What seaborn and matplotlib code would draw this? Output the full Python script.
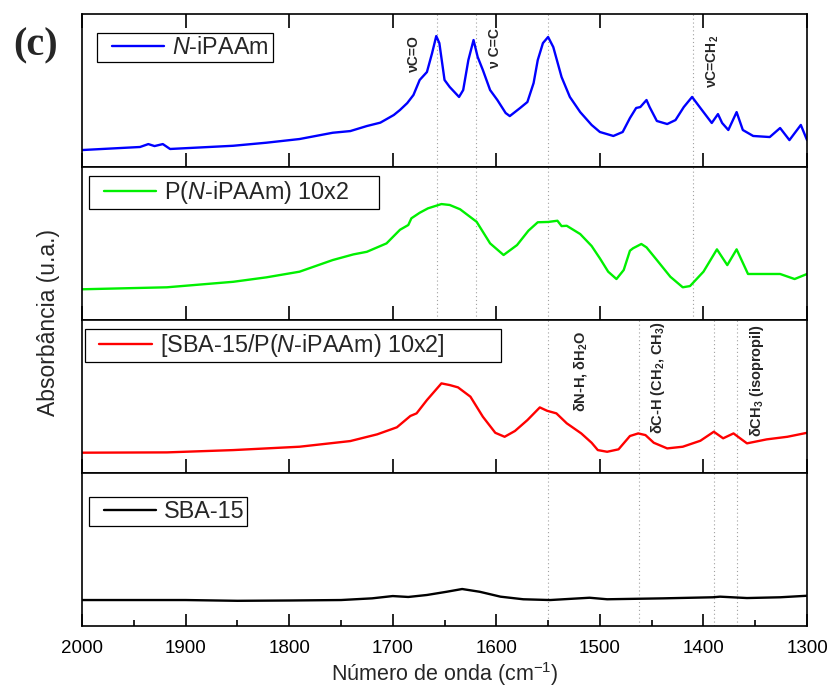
import matplotlib
matplotlib.use("Agg")
import matplotlib.pyplot as plt
from matplotlib.lines import Line2D
from matplotlib.legend_handler import HandlerLine2D
from matplotlib.ticker import MultipleLocator, FixedLocator
import pandas as pd
import seaborn as sns

# --- spectra (wavenumber cm-1, absorbance a.u.) ---
wn_nipaam = [2000, 1944, 1936, 1930, 1922, 1915, 1854, 1822, 1790, 1758, 1741, 1725,
             1712, 1699, 1693, 1686, 1680, 1674, 1667, 1662, 1658, 1655, 1650, 1645,
             1636, 1632, 1627, 1622, 1618, 1613, 1606, 1599, 1591, 1587, 1577, 1570,
             1564, 1560, 1555, 1550, 1545, 1537, 1529, 1519, 1508, 1500, 1487, 1478,
             1471, 1465, 1461, 1455, 1452, 1445, 1435, 1427, 1419, 1411, 1403, 1392,
             1386, 1382, 1376, 1368, 1362, 1352, 1336, 1326, 1317, 1306, 1300]
abs_nipaam = [0.111, 0.131, 0.150, 0.137, 0.150, 0.118, 0.139, 0.159, 0.183, 0.224,
              0.235, 0.268, 0.290, 0.340, 0.373, 0.418, 0.471, 0.569, 0.621, 0.745,
              0.856, 0.810, 0.569, 0.523, 0.458, 0.503, 0.699, 0.830, 0.719, 0.634,
              0.503, 0.438, 0.353, 0.333, 0.386, 0.425, 0.549, 0.699, 0.810, 0.850,
              0.784, 0.588, 0.458, 0.359, 0.275, 0.229, 0.203, 0.229, 0.320, 0.386,
              0.392, 0.438, 0.392, 0.301, 0.281, 0.307, 0.392, 0.458, 0.386, 0.288,
              0.346, 0.288, 0.242, 0.359, 0.242, 0.203, 0.196, 0.255, 0.176, 0.275,
              0.176]

wn_pnipaam = [2000, 1918, 1854, 1822, 1790, 1758, 1738, 1725, 1706, 1693, 1685, 1682,
              1674, 1666, 1653, 1645, 1635, 1619, 1606, 1593, 1580, 1569, 1560, 1550,
              1541, 1537, 1532, 1519, 1508, 1500, 1492, 1484, 1477, 1471, 1468, 1460,
              1455, 1445, 1432, 1420, 1413, 1400, 1387, 1377, 1368, 1357, 1339, 1326,
              1312, 1300]
abs_pnipaam = [0.201, 0.214, 0.250, 0.279, 0.316, 0.392, 0.429, 0.446, 0.501, 0.590,
               0.621, 0.665, 0.701, 0.730, 0.758, 0.752, 0.724, 0.642, 0.501, 0.425,
               0.490, 0.584, 0.639, 0.641, 0.649, 0.614, 0.616, 0.562, 0.484, 0.403,
               0.316, 0.268, 0.327, 0.453, 0.469, 0.497, 0.475, 0.392, 0.283, 0.214,
               0.222, 0.316, 0.462, 0.359, 0.462, 0.301, 0.301, 0.301, 0.268, 0.301]

wn_sba_pn = [2000, 1918, 1854, 1790, 1741, 1715, 1696, 1683, 1677, 1667, 1653, 1645,
             1637, 1625, 1613, 1601, 1592, 1582, 1570, 1558, 1551, 1542, 1532, 1518,
             1508, 1502, 1493, 1482, 1471, 1463, 1456, 1448, 1435, 1420, 1403, 1390,
             1381, 1371, 1358, 1339, 1319, 1300]
abs_sba_pn = [0.133, 0.135, 0.150, 0.172, 0.209, 0.253, 0.299, 0.373, 0.390, 0.477,
              0.586, 0.575, 0.560, 0.499, 0.368, 0.263, 0.237, 0.275, 0.346, 0.429,
              0.407, 0.390, 0.325, 0.259, 0.198, 0.150, 0.139, 0.155, 0.242, 0.259,
              0.248, 0.198, 0.161, 0.172, 0.211, 0.270, 0.227, 0.259, 0.194, 0.220,
              0.237, 0.263]

wn_sba = [2000, 1900, 1850, 1800, 1750, 1720, 1700, 1685, 1667, 1648, 1633, 1616,
          1596, 1574, 1548, 1510, 1493, 1439, 1391, 1384, 1358, 1326, 1300]
abs_sba = [0.170, 0.170, 0.165, 0.167, 0.170, 0.181, 0.196, 0.190, 0.203, 0.224,
           0.242, 0.224, 0.192, 0.175, 0.170, 0.185, 0.175, 0.181, 0.188, 0.192,
           0.183, 0.188, 0.198]

labels = ["$\\mathit{N}$-iPAAm ", "P($\\mathit{N}$-iPAAm) 10x2     ",
          "[SBA-15/P($\\mathit{N}$-iPAAm) 10x2]         ", "SBA-15"]
colors = ["#0000ff", "#00f000", "#ff0000", "#000000"]

# reference lines (dotted) per panel
lines_top = [1657, 1620, 1550, 1410]
lines_bottom = [1550, 1462, 1390, 1368]

# band assignments: (text, wavenumber, height in panel)
bands_top = [("νC=O", 1680, 0.742), ("ν C=C", 1601, 0.778), ("νC=CH$_2$", 1391, 0.69)]
bands_mid = [("δN-H, δH$_2$O", 1519, 0.667), ("δC-H (CH$_2$, CH$_3$)", 1444, 0.624),
             ("δCH$_3$ (isopropil)", 1348, 0.605)]

sns.set_theme(style="ticks")
plt.rcParams["font.family"] = ["Liberation Sans", "DejaVu Sans"]
plt.rcParams.update({
    "mathtext.fontset": "custom",
    "mathtext.rm": "Liberation Sans",
    "mathtext.it": "Liberation Sans:italic",
    "mathtext.default": "regular",
    "axes.linewidth": 1.2,
    "axes.edgecolor": "black",
    "xtick.color": "black",
})

series = [(wn_nipaam, abs_nipaam), (wn_pnipaam, abs_pnipaam),
          (wn_sba_pn, abs_sba_pn), (wn_sba, abs_sba)]
legend_pos = [(0.0207, 0.876), (0.0097, 0.941), (0.0041, 0.941), (0.0097, 0.843)]

fig, axes = plt.subplots(4, 1, figsize=(8.32, 6.91), dpi=100, sharex=True)
fig.subplots_adjust(left=0.0986, right=0.970, top=0.9797, bottom=0.094, hspace=0)

for i, ax in enumerate(axes):
    wn, ab = series[i]
    df = pd.DataFrame({"wn": wn, "abs": ab})
    sns.lineplot(data=df, x="wn", y="abs", ax=ax, color=colors[i], lw=1.7,
                 label=labels[i], sort=False)
    for v in (lines_top if i < 2 else lines_bottom):
        ax.axvline(v, color="#a0a0a0", lw=0.8, ls=(0, (1, 2.5)), zorder=0)
    ax.set_ylim(0, 1)
    ax.set_xlim(2000, 1300)
    ax.set_yticks([])
    ax.set_ylabel("")
    ax.set_xlabel("")
    for s in ax.spines.values():
        s.set_linewidth(1.2)
        s.set_color("black")
    leg = ax.legend(loc="upper left", bbox_to_anchor=legend_pos[i], borderaxespad=0,
                    fontsize=16.8, frameon=True, fancybox=False, handlelength=2.75,
                    handletextpad=0.34, borderpad=0.12, framealpha=1,
                    handler_map={Line2D: HandlerLine2D(xpad=0.5)})
    leg.get_frame().set_edgecolor("black")
    leg.get_frame().set_linewidth(0.9)

for ax in axes[:3]:
    ax.xaxis.set_major_locator(FixedLocator([1750, 1500]))
    ax.xaxis.set_minor_locator(FixedLocator([]))
    ax.tick_params(axis="x", which="major", direction="in", length=10, width=1.2,
                   bottom=True, top=False, labelbottom=False)
axes[0].tick_params(axis="x", which="major", top=True)

ax = axes[3]
ax.xaxis.set_major_locator(MultipleLocator(100))
ax.xaxis.set_minor_locator(MultipleLocator(50))
ax.tick_params(axis="x", which="major", direction="in", length=9, width=1.2,
               labelsize=13.5, pad=10, top=False)
ax.tick_params(axis="x", which="minor", direction="in", length=4.5, width=1.2, top=False)
ax.set_xlabel("Número de onda (cm$^{-1}$)", fontsize=15.5)
ax.xaxis.set_label_coords(0.5, -0.225)

for txt, x, y in bands_top:
    axes[0].text(x, y, txt, rotation=90, ha="center", va="center", fontsize=10,
                 fontweight="bold", transform=axes[0].get_xaxis_transform())
for txt, x, y in bands_mid:
    axes[2].text(x, y, txt, rotation=90, ha="center", va="center", fontsize=10.5,
                 fontweight="bold", transform=axes[2].get_xaxis_transform())

fig.text(0.058, 0.534, "Absorbância (u.a.)", rotation=90, ha="center", va="center",
         fontsize=16.5)
fig.text(0.0165, 0.934, "(c)", fontsize=29, fontweight="bold",
         family="Liberation Serif", ha="left", va="center")

fig.savefig("out.png", dpi=100)
